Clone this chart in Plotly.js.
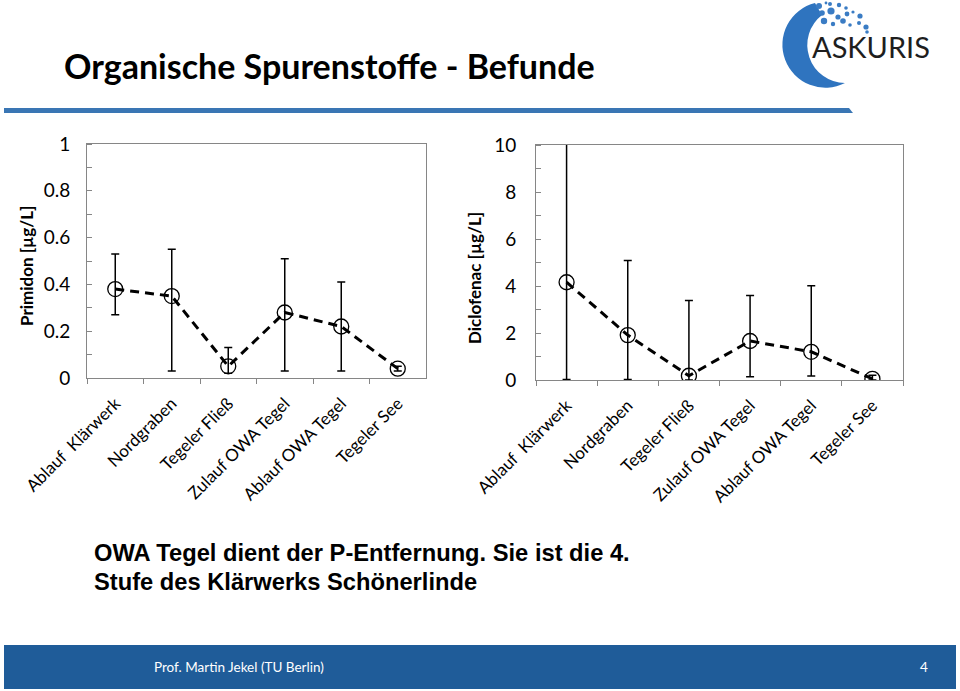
<!DOCTYPE html>
<html>
<head>
<meta charset="utf-8">
<script src="https://cdn.plot.ly/plotly-3.0.1.min.js"></script>
<style>
html,body{margin:0;padding:0;background:#fff;}
#wrap{position:relative;width:960px;height:691px;overflow:hidden;}
#chart{position:absolute;left:0;top:0;width:960px;height:691px;}
#logo{position:absolute;left:0;top:0;pointer-events:none;}
</style>
</head>
<body>
<div id="wrap">
<div id="chart"></div>
<svg id="logo" width="960" height="691" xmlns="http://www.w3.org/2000/svg">
  <path d="M 815 3 A 43 43 0 1 0 845 83 A 38 38 0 0 1 822 15 Z" fill="#2f74bf"/>
  <g fill="#3a7cc4">
    <circle cx="819" cy="6" r="3"/>
    <circle cx="830" cy="4" r="2"/>
    <circle cx="839" cy="5" r="2.2"/>
    <circle cx="846" cy="8" r="1.8"/>
    <circle cx="822" cy="13" r="2.8"/>
    <circle cx="831" cy="11" r="3.6"/>
    <circle cx="838" cy="17" r="2.6"/>
    <circle cx="847" cy="14" r="2.4"/>
    <circle cx="853" cy="12" r="1.6"/>
    <circle cx="860" cy="16" r="2.6"/>
    <circle cx="824" cy="21" r="3.2"/>
    <circle cx="833" cy="24" r="2.2"/>
    <circle cx="843" cy="21" r="2.8"/>
    <circle cx="850" cy="25" r="1.8"/>
    <circle cx="859" cy="23" r="2"/>
    <circle cx="866" cy="27" r="2.6"/>
    <circle cx="867" cy="32" r="1.8"/>
    <circle cx="826" cy="3" r="1.4"/>
  </g>
  <text x="812" y="58" font-family="Lato, 'Open Sans', sans-serif" font-size="29" fill="#1e1e1e">ASKURIS</text>
</svg>
</div>
<script>
// ---- data ----
var categories = ["Ablauf\u00a0 Klärwerk", "Nordgraben", "Tegeler Fließ", "Zulauf OWA Tegel", "Ablauf OWA Tegel", "Tegeler See"];

var primidonMean  = [0.38, 0.35, 0.05, 0.28, 0.22, 0.04];
var primidonUpper = [0.53, 0.55, 0.13, 0.51, 0.41, 0.05];
var primidonLower = [0.27, 0.03, 0.02, 0.03, 0.03, 0.03];

var diclofenacMean  = [4.16, 1.91, 0.18, 1.66, 1.20, 0.05];
var diclofenacUpper = [12.0, 5.08, 3.38, 3.60, 4.01, 0.20];
var diclofenacLower = [0.02, 0.02, 0.00, 0.14, 0.17, 0.00];

var primidonTicks   = [0, 0.2, 0.4, 0.6, 0.8, 1];
var diclofenacTicks = [0, 2, 4, 6, 8, 10];

// ---- helpers ----
var W = 960, H = 691;
function px(x){ return x / W; }
function py(y){ return 1 - y / H; }
function diff(a, b){ return a.map(function(v, i){ return v - b[i]; }); }

var FONT = "Lato, 'Open Sans', sans-serif";
var AXC = "#868686";

function seriesTrace(vals, up, lo, xa, ya){
  return {
    type: "scatter", mode: "lines+markers",
    x: categories, y: vals, xaxis: xa, yaxis: ya,
    line: {color: "#000", width: 3, dash: "9px,6px"},
    marker: {symbol: "circle-open", size: 15, color: "#000", line: {color: "#000", width: 1.3}},
    error_y: {type: "data", symmetric: false, array: diff(up, vals), arrayminus: diff(vals, lo),
              color: "#000", thickness: 1.5, width: 4},
    showlegend: false, hoverinfo: "skip"
  };
}

var data = [
  seriesTrace(primidonMean, primidonUpper, primidonLower, "x", "y"),
  seriesTrace(diclofenacMean, diclofenacUpper, diclofenacLower, "x2", "y2")
];

function xAxis(d0, d1, anchor){
  return {domain: [d0, d1], anchor: anchor, type: "category", range: [-0.5, 5.5],
    tickson: "boundaries", ticks: "outside", ticklen: 5, tickcolor: AXC,
    showline: true, linecolor: AXC, linewidth: 1, mirror: true, showgrid: false,
    tickangle: -45, ticklabelstandoff: 8,
    tickfont: {family: FONT, size: 17, color: "#000"}, fixedrange: true};
}
function yAxis(d0, d1, anchor, rng, ticks, minorStep, standoff){
  return {domain: [d0, d1], anchor: anchor, range: rng, tickvals: ticks, ticktext: ticks.map(String),
    ticks: "", showline: true, linecolor: AXC, linewidth: 1, mirror: true, showgrid: false, zeroline: false,
    minor: {ticks: "inside", dtick: minorStep, ticklen: 5, tickcolor: AXC, showgrid: false},
    tickfont: {family: FONT, size: 19, color: "#000"}, ticklabelstandoff: standoff, fixedrange: true};
}

var layout = {
  width: W, height: H, margin: {l: 0, r: 0, t: 0, b: 0},
  paper_bgcolor: "#fff", plot_bgcolor: "rgba(0,0,0,0)",
  showlegend: false,
  xaxis: xAxis(px(87), px(426), "y"),
  yaxis: yAxis(py(378), py(144), "x", [0, 1], primidonTicks, 0.1, 12),
  xaxis2: xAxis(px(536), px(903), "y2"),
  yaxis2: yAxis(py(380), py(145), "x2", [0, 10], diclofenacTicks, 1, 15),
  shapes: [
    {type: "path", xref: "paper", yref: "paper", layer: "below",
     path: "M " + px(4) + "," + py(108) + " L " + px(849) + "," + py(108) + " L " + px(853) + "," + py(113) + " L " + px(4) + "," + py(113) + " Z",
     fillcolor: "#3a76b4", line: {width: 0}},
    {type: "rect", xref: "paper", yref: "paper", layer: "below",
     x0: px(4), x1: px(956), y0: py(689), y1: py(645),
     fillcolor: "#1f5c99", line: {width: 0}}
  ],
  annotations: [
    {text: "<b>Organische Spurenstoffe - Befunde</b>", xref: "paper", yref: "paper",
     x: px(62), y: py(65), xanchor: "left", yanchor: "middle", showarrow: false,
     font: {family: FONT, size: 34, color: "#000"}},
    {text: "<b>Primidon [µg/L]</b>", xref: "paper", yref: "paper", textangle: -90,
     x: px(26), y: py(266), xanchor: "center", yanchor: "middle", showarrow: false,
     font: {family: FONT, size: 17, color: "#000"}},
    {text: "<b>Diclofenac [µg/L]</b>", xref: "paper", yref: "paper", textangle: -90,
     x: px(474), y: py(278), xanchor: "center", yanchor: "middle", showarrow: false,
     font: {family: FONT, size: 17, color: "#000"}},
    {text: "<b>OWA Tegel dient der P-Entfernung. Sie ist die 4.</b>", xref: "paper", yref: "paper",
     x: px(92), y: py(553), xanchor: "left", yanchor: "middle", showarrow: false,
     font: {family: "'Liberation Sans', Arial, sans-serif", size: 23.7, color: "#000"}},
    {text: "<b>Stufe des Klärwerks Schönerlinde</b>", xref: "paper", yref: "paper",
     x: px(92), y: py(582), xanchor: "left", yanchor: "middle", showarrow: false,
     font: {family: "'Liberation Sans', Arial, sans-serif", size: 23.7, color: "#000"}},
    {text: "Prof. Martin Jekel (TU Berlin)", xref: "paper", yref: "paper",
     x: px(152), y: py(667), xanchor: "left", yanchor: "middle", showarrow: false,
     font: {family: FONT, size: 13.5, color: "#fff"}},
    {text: "4", xref: "paper", yref: "paper",
     x: px(924), y: py(667), xanchor: "center", yanchor: "middle", showarrow: false,
     font: {family: FONT, size: 13.5, color: "#fff"}}
  ]
};

Plotly.newPlot("chart", data, layout, {staticPlot: true, displayModeBar: false});
</script>
</body>
</html>
